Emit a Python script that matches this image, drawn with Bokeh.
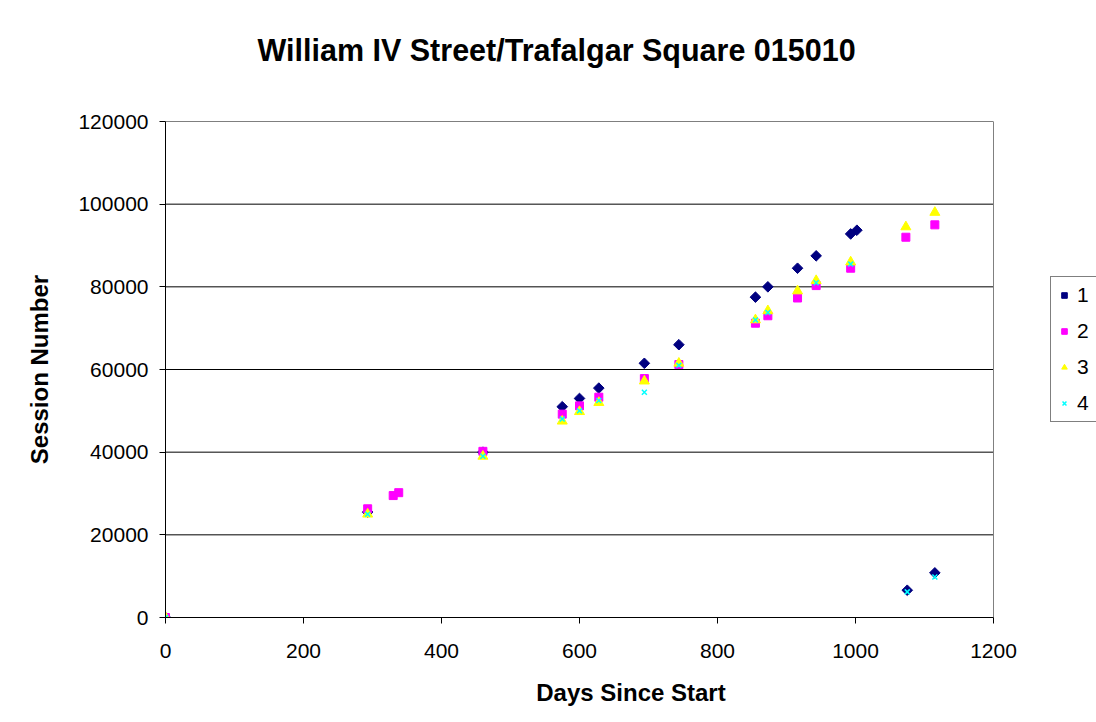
import math
from bokeh.plotting import figure
from bokeh.models import Range1d, FixedTicker, BasicTickFormatter, Legend, LegendItem, Title
from bokeh.embed import file_html
from bokeh.resources import INLINE

title_text = "William IV Street/Trafalgar Square 015010"
x_label = "Days Since Start"
y_label = "Session Number"
series_names = ["1", "2", "3", "4"]

s1_days = [0, 293, 460, 575, 600, 628, 694, 744, 855, 873, 916, 943, 993, 1002, 1075, 1115]
s1_vals = [0, 25500, 40000, 51000, 53000, 55500, 61500, 66000, 77500, 80000, 84500, 87500, 92800, 93700, 6600, 10800]

s2_days = [0, 293, 330, 338, 460, 575, 600, 628, 694, 744, 855, 873, 916, 943, 993, 1073, 1115]
s2_vals = [0, 26300, 29500, 30200, 40200, 49200, 51200, 53300, 57800, 61200, 71200, 73000, 77300, 80300, 84500, 92000, 95000]

s3_days = [0, 293, 460, 575, 600, 628, 694, 744, 855, 873, 916, 943, 993, 1073, 1115]
s3_vals = [0, 25000, 39000, 47500, 49800, 52000, 57200, 61500, 72000, 74200, 79000, 81500, 86000, 94500, 98000]

s4_days = [0, 293, 460, 575, 600, 628, 694, 744, 855, 873, 943, 993, 1075, 1115]
s4_vals = [0, 25000, 39000, 48000, 50000, 52500, 54500, 61000, 72000, 73800, 81000, 85500, 6200, 9800]

x_ticks = [0, 200, 400, 600, 800, 1000, 1200]
y_ticks = [0, 20000, 40000, 60000, 80000, 100000, 120000]

FONT = "Liberation Sans"

# plot area: 828 px for x 0..1200; the frame runs on to the page edge so the legend can sit there
LEFT, TOP, BOTTOM = 165, 121, 105
W, H = 1096, 722
frame_w = W - LEFT
x_max = x_ticks[-1]
y_max = y_ticks[-1]
x_end = x_max * frame_w / 828.0

p = figure(width=W, height=H, output_backend="svg", toolbar_location=None,
           x_range=Range1d(0, x_end), y_range=Range1d(0, y_max), title=None)
p.min_border_left = LEFT
p.min_border_right = 0
p.min_border_top = TOP
p.min_border_bottom = BOTTOM
p.background_fill_color = "white"
p.border_fill_color = "white"
p.outline_line_color = None

# spacer panel between plot area and title, then the title itself
spacer = Title(text=" ", text_font_size="1px", standoff=52, text_color="white")
p.add_layout(spacer, "above")
main_title = Title(text=title_text, align="left", offset=92, standoff=0,
                   text_font=FONT, text_font_size="30.5px", text_font_style="bold", text_color="black")
p.add_layout(main_title, "above")

for ax, ticks in ((p.xaxis[0], x_ticks), (p.yaxis[0], y_ticks)):
    ax.ticker = FixedTicker(ticks=ticks)
    ax.formatter = BasicTickFormatter(use_scientific=False)
    ax.major_tick_out = 6
    ax.major_tick_in = 0
    ax.minor_tick_line_color = None
    ax.axis_line_color = "black"
    ax.major_tick_line_color = "black"
    ax.major_label_text_font = FONT
    ax.major_label_text_font_size = "21px"
    ax.major_label_text_color = "black"
    ax.axis_label_text_font = FONT
    ax.axis_label_text_font_size = "24px"
    ax.axis_label_text_font_style = "bold"
    ax.axis_label_text_color = "black"

p.xaxis[0].bounds = (0, x_max)
p.xaxis[0].axis_label = x_label
p.yaxis[0].axis_label = y_label
p.xaxis[0].major_label_standoff = 20
p.xaxis[0].axis_label_standoff = 18
p.yaxis[0].major_label_standoff = 11
p.yaxis[0].axis_label_standoff = 22

p.xgrid.grid_line_color = None
p.ygrid.grid_line_color = None

# horizontal gridlines limited to the plot area, and its grey right edge
gy = y_ticks[1:]
p.segment(x0=[0] * len(gy), x1=[x_max] * len(gy), y0=gy, y1=gy, line_color="black", line_width=1)
p.segment(x0=[x_max], x1=[x_max], y0=[0], y1=[y_max], line_color="#808080", line_width=1)

r1 = p.scatter(s1_days, s1_vals, marker="square", angle=math.pi / 4, size=7.5,
               fill_color="#000080", line_color="#000080")
r2 = p.scatter(s2_days, s2_vals, marker="square", size=8, fill_color="#FF00FF", line_color="#FF00FF")
r3 = p.scatter(s3_days, s3_vals, marker="triangle", size=10, fill_color="#FFFF00", line_color="#FFFF00")
r4 = p.scatter(s4_days, s4_vals, marker="x", size=7, line_color="#00FFFF", line_width=1.5)

legend = Legend(items=[LegendItem(label=n, renderers=[r]) for n, r in zip(series_names, [r1, r2, r3, r4])],
                location=(885, 195))
legend.label_text_font = FONT
legend.label_text_font_size = "21px"
legend.label_text_color = "black"
legend.glyph_width = 14
legend.glyph_height = 20
legend.label_height = 20
legend.label_standoff = 6
legend.spacing = 12
legend.padding = 6
legend.margin = 0
legend.border_line_color = "black"
legend.border_line_width = 1
legend.background_fill_color = "white"
legend.background_fill_alpha = 1
p.add_layout(legend, "center")

open("out.html", "w").write(file_html(p, INLINE))
